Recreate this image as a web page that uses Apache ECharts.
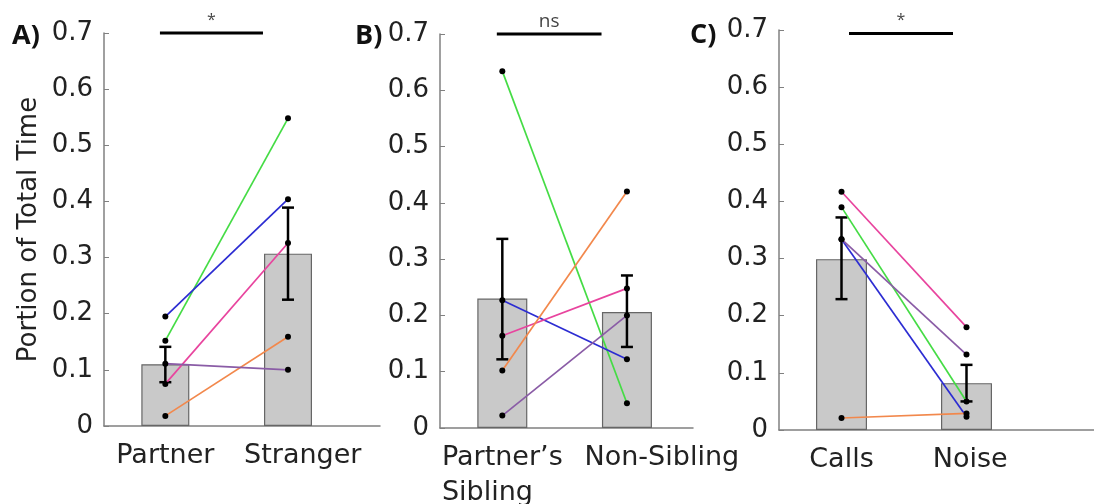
<!DOCTYPE html>
<html>
<head>
<meta charset="utf-8">
<script src="https://cdn.jsdelivr.net/npm/echarts@6/dist/echarts.min.js"></script>
<style>
html, body { margin: 0; padding: 0; background: #fff; }
#chart { width: 1094px; height: 504px; }
</style>
</head>
<body>
<div id="chart"></div>
<script>
// ---- data ----
const panelLetters = ['A)', 'B)', 'C)']
const categoriesA = ['Partner', 'Stranger']
const categoriesB = ['Partner’s\nSibling', 'Non-Sibling']
const categoriesC = ['Calls', 'Noise']
const yTicks = [0, 0.1, 0.2, 0.3, 0.4, 0.5, 0.6, 0.7]
const yTitle = 'Portion of Total Time'

// subjects in order: green, blue, pink, orange, purple
const subjectColors = ['#45dc45', '#2c2cd2', '#e8449e', '#f2884c', '#8a5ca6']

const meansA = [0.110, 0.307]
const errLowA = [0.078, 0.225]
const errHighA = [0.141, 0.389]
const firstA = [0.152, 0.195, 0.075, 0.018, 0.111]
const secondA = [0.548, 0.404, 0.326, 0.159, 0.100]

const meansB = [0.230, 0.206]
const errLowB = [0.122, 0.144]
const errHighB = [0.336, 0.271]
const firstB = [0.634, 0.227, 0.164, 0.102, 0.022]
const secondB = [0.044, 0.122, 0.248, 0.420, 0.200]

const meansC = [0.299, 0.082]
const errLowC = [0.229, 0.050]
const errHighC = [0.372, 0.114]
const firstC = [0.390, 0.334, 0.417, 0.021, 0.334]
const secondC = [0.050, 0.023, 0.180, 0.029, 0.132]

const sigLabels = ['*', 'ns', '*']
const sigFrom = [0.956, 0.956, 1.06]
const sigTo = [1.796, 1.796, 1.892]
const sigLevel = [0.7, 0.7, 0.694]

// ---- layout ----
const grids = [
  { left: 104, top: 33, width: 276, height: 393 },
  { left: 440, top: 34, width: 253, height: 394 },
  { left: 779, top: 30, width: 320, height: 400 }
]
const xRanges = [[0.5, 2.75], [0.5, 2.53], [0.5, 3.06]]
const barWidths = [48, 50, 51]
// where the category text sits (the original nudged some labels to the right)
const labelAt = [[1, 2.12], [1, 2.28], [1, 2.03]]
const letterPos = [[12, 36], [355, 36], [690, 35]]
const sigFont = [16, 19, 16]
const sigDist = [4, 2, 4]

const panels = [
  { cats: categoriesA, means: meansA, lo: errLowA, hi: errHighA, first: firstA, second: secondA },
  { cats: categoriesB, means: meansB, lo: errLowB, hi: errHighB, first: firstB, second: secondB },
  { cats: categoriesC, means: meansC, lo: errLowC, hi: errHighC, first: firstC, second: secondC }
]

const axisGray = '#808080'
const textColor = '#222'
const fontFamily = 'DejaVu Sans'

function renderErrorBar (params, api) {
  const x = api.value(0)
  const lo = api.coord([x, api.value(1)])
  const hi = api.coord([x, api.value(2)])
  const half = 6
  const style = { stroke: '#000', lineWidth: 2.5 }
  return {
    type: 'group',
    children: [
      { type: 'line', shape: { x1: lo[0], y1: lo[1], x2: hi[0], y2: hi[1] }, style: style },
      { type: 'line', shape: { x1: lo[0] - half, y1: lo[1], x2: lo[0] + half, y2: lo[1] }, style: style },
      { type: 'line', shape: { x1: hi[0] - half, y1: hi[1], x2: hi[0] + half, y2: hi[1] }, style: style }
    ]
  }
}

const xAxes = []
const yAxes = []
const series = []

panels.forEach((p, i) => {
  xAxes.push({
    type: 'value',
    gridIndex: i,
    min: xRanges[i][0],
    max: xRanges[i][1],
    axisLine: { show: true, lineStyle: { color: axisGray, width: 1.5 } },
    axisTick: { show: true, inside: true, length: 5, customValues: [1, 2], lineStyle: { color: axisGray } },
    splitLine: { show: false },
    axisLabel: {
      customValues: labelAt[i],
      hideOverlap: false,
      margin: 12,
      fontSize: 27,
      fontFamily: fontFamily,
      color: textColor,
      lineHeight: 35,
      verticalAlign: 'top',
      formatter: function (v) {
        const k = v < 1.5 ? 0 : 1
        return p.cats[k].split('\n').map(l => '{l|' + l + '}').join('\n')
      },
      rich: {
        l: { fontSize: 27, fontFamily: fontFamily, color: textColor, lineHeight: 35, align: 'left' }
      }
    }
  })
  yAxes.push({
    type: 'value',
    gridIndex: i,
    min: 0,
    max: 0.7,
    interval: 0.1,
    name: i === 0 ? yTitle : '',
    nameLocation: 'middle',
    nameRotate: 90,
    nameGap: 62,
    nameTextStyle: { fontSize: 26, fontFamily: fontFamily, color: textColor },
    axisLine: { show: true, lineStyle: { color: axisGray, width: 1.5 } },
    axisTick: { show: true, inside: true, length: 5, customValues: yTicks, lineStyle: { color: axisGray } },
    splitLine: { show: false },
    axisLabel: {
      customValues: yTicks,
      margin: 11,
      fontSize: 26,
      fontFamily: fontFamily,
      color: textColor,
      padding: [5, 0, 0, 0],
      formatter: v => String(Math.round(v * 10) / 10)
    }
  })

  series.push({
    type: 'bar',
    xAxisIndex: i,
    yAxisIndex: i,
    barWidth: barWidths[i],
    data: p.means.map((m, k) => [k + 1, m]),
    itemStyle: { color: '#c9c9c9', borderColor: '#666', borderWidth: 1.2 },
    silent: true
  })
  series.push({
    type: 'custom',
    xAxisIndex: i,
    yAxisIndex: i,
    renderItem: renderErrorBar,
    encode: { x: 0, y: [1, 2] },
    data: p.means.map((m, k) => [k + 1, p.lo[k], p.hi[k]]),
    z: 3,
    silent: true
  })
  p.first.forEach((v, s) => {
    series.push({
      type: 'line',
      xAxisIndex: i,
      yAxisIndex: i,
      data: [[1, v], [2, p.second[s]]],
      symbol: 'circle',
      symbolSize: 6,
      lineStyle: { color: subjectColors[s], width: 1.7 },
      itemStyle: { color: '#000' },
      z: 4,
      silent: true
    })
  })
  series.push({
    type: 'line',
    xAxisIndex: i,
    yAxisIndex: i,
    data: [[sigFrom[i], sigLevel[i]], [sigTo[i], sigLevel[i]]],
    symbol: 'none',
    clip: false,
    lineStyle: { color: '#000', width: 3 },
    z: 5,
    silent: true
  })
  series.push({
    type: 'scatter',
    xAxisIndex: i,
    yAxisIndex: i,
    data: [[(sigFrom[i] + sigTo[i]) / 2, sigLevel[i]]],
    symbolSize: 1,
    clip: false,
    itemStyle: { color: 'rgba(0,0,0,0)' },
    label: {
      show: true,
      position: 'top',
      distance: sigDist[i],
      formatter: sigLabels[i],
      fontSize: sigFont[i],
      fontFamily: 'Open Sans',
      color: '#111'
    },
    silent: true
  })
})

const chart = echarts.init(document.getElementById('chart'), null, { renderer: 'canvas' })
chart.setOption({
  animation: false,
  backgroundColor: '#fff',
  grid: grids.map(g => Object.assign({ containLabel: false, outerBoundsMode: 'none' }, g)),
  xAxis: xAxes,
  yAxis: yAxes,
  series: series,
  graphic: panelLetters.map((t, i) => ({
    type: 'text',
    x: letterPos[i][0],
    y: letterPos[i][1],
    style: {
      text: t,
      font: 'bold 27px "Open Sans"',
      fill: '#111',
      textVerticalAlign: 'middle'
    }
  }))
})
</script>
</body>
</html>
